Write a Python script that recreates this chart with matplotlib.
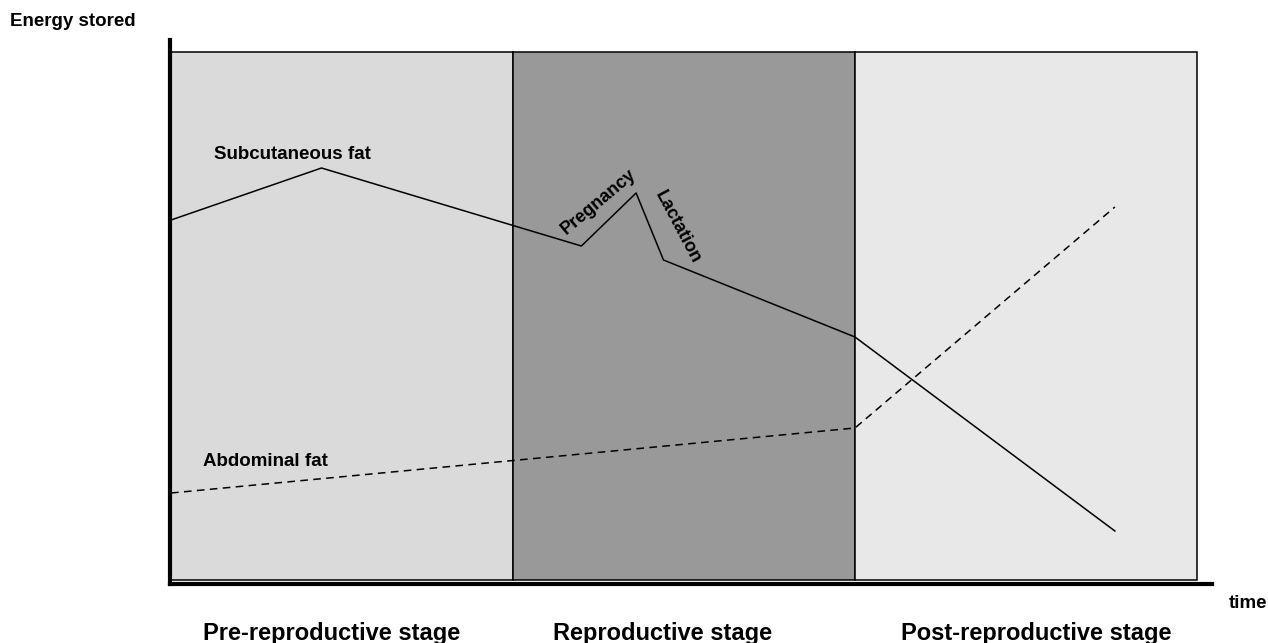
import matplotlib.pyplot as plt
from matplotlib.patches import Rectangle

plt.rcParams['font.family'] = ['Liberation Sans', 'DejaVu Sans']
plt.rcParams['font.weight'] = 'bold'

# stages along the time axis (one unit of time per stage)
stages = ['Pre-reproductive stage', 'Reproductive stage', 'Post-reproductive stage']
stage_colors = ['#dadada', '#999999', '#e8e8e8']

# subcutaneous fat curve
subq_t = [0.0, 0.44, 1.20, 1.36, 1.44, 2.0, 2.76]
subq_e = [3.64, 4.16, 3.38, 3.91, 3.24, 2.47, 0.53]

# abdominal fat curve
abd_t = [0.0, 2.0, 2.76]
abd_e = [0.91, 1.56, 3.77]

W, H = 1268, 643
fig = plt.figure(figsize=(W/100, H/100), dpi=100)
ax = fig.add_axes([170/W, (H-584)/H, (1212-170)/W, (584-40)/H])
ax.set_xlim(-0.003, 3.044)
ax.set_ylim(0, 5.44)

for i, c in enumerate(stage_colors):
    ax.add_patch(Rectangle((i, 0.04), 1, 5.28, facecolor=c, edgecolor='black',
                           lw=1.1, zorder=1))

ax.plot(subq_t, subq_e, color='black', lw=1.1, zorder=3)
ax.plot(abd_t, abd_e, color='black', lw=1.1, ls=(0, (5, 3.5)), zorder=3)

ax.text(0.126, 4.25, 'Subcutaneous fat', fontsize=13.5, ha='left', va='baseline')
ax.text(0.094, 1.18, 'Abdominal fat', fontsize=13.5, ha='left', va='baseline')
ax.text(1.251, 3.82, 'Pregnancy', fontsize=13, rotation=40, ha='center', va='center',
        rotation_mode='anchor')
ax.text(1.480, 3.57, 'Lactation', fontsize=13, rotation=-62, ha='center', va='center',
        rotation_mode='anchor')

for s in ['top', 'right']:
    ax.spines[s].set_visible(False)
ax.spines['left'].set_linewidth(3)
ax.spines['bottom'].set_linewidth(3)
ax.set_xticks([])
ax.set_yticks([])

fig.text(10/W, 1 - 26/H, 'Energy stored', fontsize=13.5, ha='left', va='baseline')
fig.text(1229/W, 1 - 608/H, 'time', fontsize=13.5, ha='left', va='baseline')
label_x = [203, 553, 901]
for s, x in zip(stages, label_x):
    fig.text(x/W, 1 - 640/H, s, fontsize=17, ha='left', va='baseline')

fig.savefig('out.png', dpi=100)
